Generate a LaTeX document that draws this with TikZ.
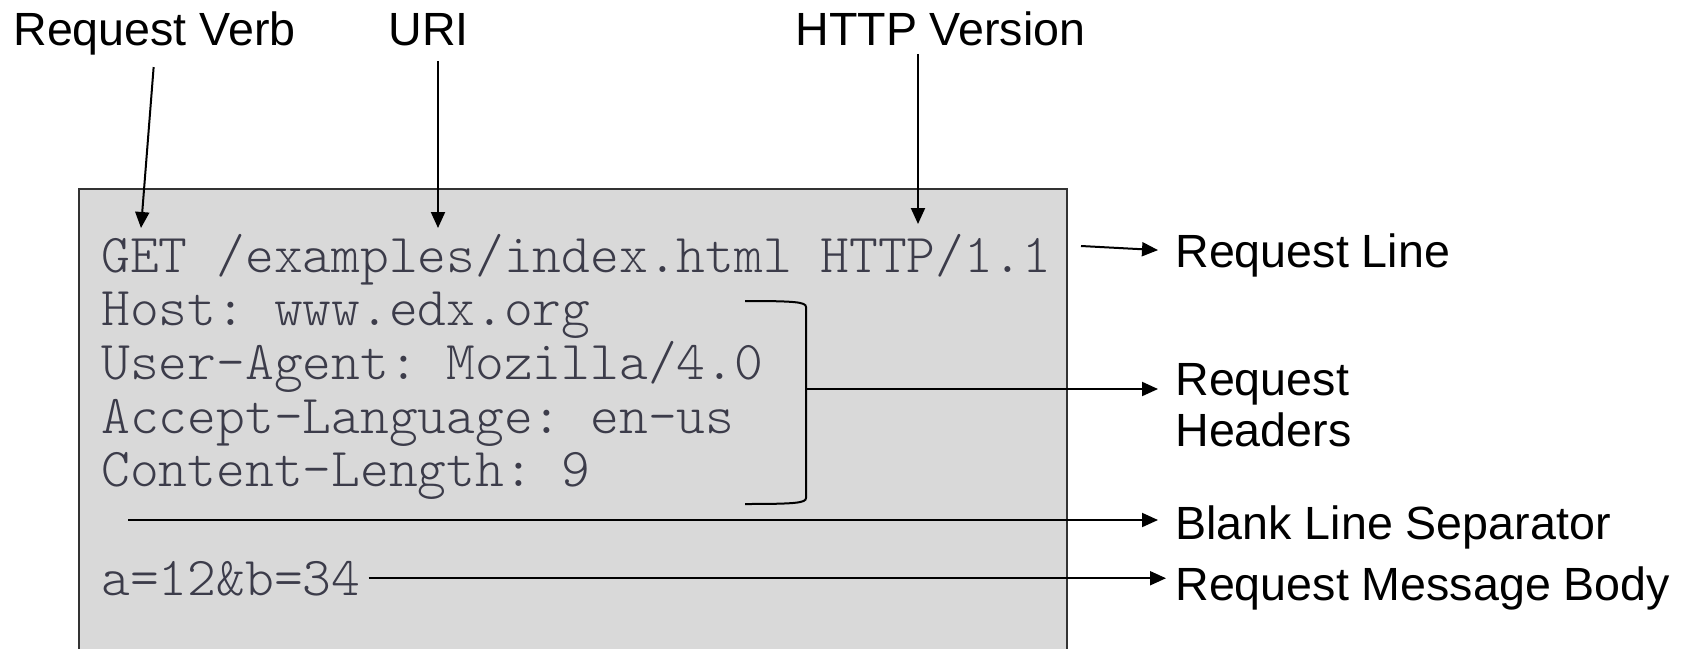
\documentclass[tikz,border=0pt]{standalone}
\usepackage{fontspec}
\setmainfont{Liberation Sans}
\setmonofont{Latin Modern Mono Light}
\usetikzlibrary{arrows.meta,positioning}

\definecolor{codegray}{HTML}{3C3C4A}
\definecolor{boxgray}{HTML}{D9D9D9}

\tikzset{
  lbl/.style={font=\fontsize{23.3pt}{25.5pt}\selectfont, inner sep=0pt},
  rlbl/.style={lbl, anchor=west, text height=16.7pt, text depth=0pt},
  code/.style={font=\ttfamily\fontsize{27.4pt}{30pt}\selectfont, text=codegray,
    inner sep=0pt, anchor=base west},
  arr/.style={-{Triangle[length=8pt,width=7pt]}, line width=1pt},
}

\begin{document}
\begin{tikzpicture}[x=0.5pt,y=-0.5pt]
  \useasboundingbox (0,0) rectangle (1701,648);
  \clip (0,0) rectangle (1701,648);

  % Message box
  \draw[fill=boxgray, draw=black!80, line width=1pt] (79,189) rectangle (1067,700);

  % Define nodes
  \node[code] (l1) at (101,272) {GET /examples/index.html HTTP/1.1};
  \foreach \txt [count=\i from 2] in {Host: www.edx.org, User-Agent: Mozilla/4.0,
      Accept-Language: en-us, Content-Length: 9}
    \node[code] (l\i) at (101,{272+53.7*(\i-1)}) {\txt};
  \node[code] (body) at (101,595) {a=12\&b=34};

  \node[lbl, anchor=base west] (verb) at (13,45) {Request Verb};
  \node[lbl, anchor=base west] (uri)  at (388,45) {URI};
  \node[lbl, anchor=base west] (ver)  at (795,45) {HTTP Version};

  \node[rlbl] (rl) at (1175,251) {Request Line};
  \node[lbl, anchor=north west, align=left] (hdr) at (1175,363) {Request\\Headers};
  \node[rlbl] (blank) at (1175,523) {Blank Line Separator};
  \node[rlbl] (msg)   at (1175,584) {Request Message Body};

  \coordinate (verbto) at (141,228);
  \coordinate (urito)  at (438,228);
  \coordinate (verto)  at (918,224);
  \coordinate (rlfrom) at (1081,246);
  \coordinate (brk)    at (806,389);
  \coordinate (sep)    at (128,520);

  % Connect the nodes
  \draw[arr, shorten <=6pt] (verb.south) -- (verbto);
  \draw[arr, shorten <=7.5pt] (urito |- uri.south) -- (urito);
  \draw[arr, shorten <=4pt] (verto |- ver.south) -- (verto);

  \draw[arr, shorten >=8.5pt] (rlfrom) -- (rl.west);
  \draw[line width=1pt] (745,301) .. controls (795,301) and (806,302) .. (806,307)
    -- (806,498) .. controls (806,503) and (795,504) .. (745,504);
  \draw[arr, shorten >=8.5pt] (brk) -- (brk -| hdr.west);
  \draw[arr, shorten >=8.5pt] (sep) -- (sep -| blank.west);
  \draw[arr, shorten >=8.5pt] ([xshift=4pt]body.east) -- ([xshift=4pt]body.east -| msg.west);

\end{tikzpicture}
\end{document}
